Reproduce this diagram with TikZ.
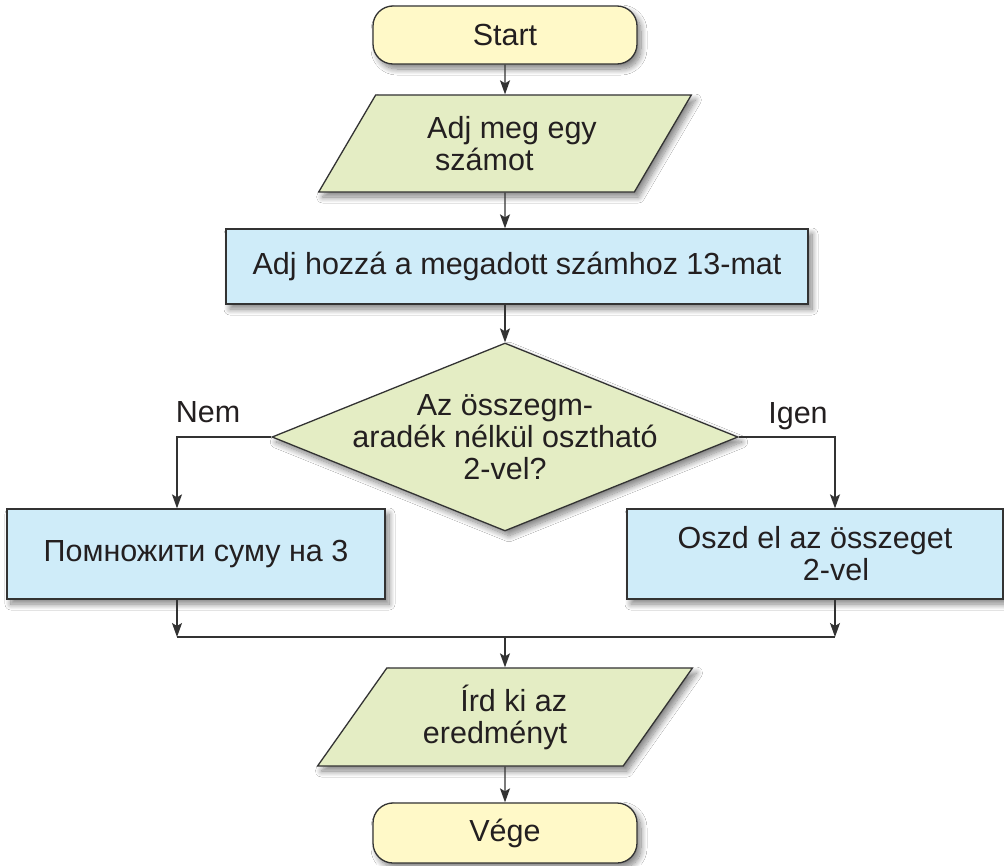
\documentclass[tikz,border=0pt]{standalone}
\usepackage{fontspec}
\setmainfont{Liberation Sans}
\usetikzlibrary{arrows.meta,shapes.geometric,shadows.blur}

\definecolor{inkgray}{HTML}{231F20}
\definecolor{linegray}{HTML}{333333}
\definecolor{termfill}{HTML}{FFF9C8}
\definecolor{iofill}{HTML}{E4EDC4}
\definecolor{procfill}{HTML}{CFECF9}

\tikzset{
  base/.style={draw=linegray, line width=1.3pt, text=inkgray, inner sep=0pt,
    font=\fontsize{30.5}{32}\selectfont,
    blur shadow={shadow xshift=4pt, shadow yshift=-5pt, shadow blur radius=6pt,
      shadow blur steps=12, shadow opacity=50}},
  terminal/.style={base, rectangle, rounded corners=20pt, fill=termfill,
    minimum width=264pt, minimum height=58pt},
  iobox/.style={base, trapezium, trapezium left angle=53.4,
    trapezium right angle=126.6, trapezium stretches=true, fill=iofill,
    minimum width=374pt, minimum height=97pt},
  procbox/.style={base, rectangle, fill=procfill},
  decision/.style={base, diamond, fill=iofill,
    minimum width=466pt, minimum height=188pt},
  branchlabel/.style={text=inkgray, font=\fontsize{30.5}{32}\selectfont},
  link/.style={draw=linegray, line width=1.3pt},
  arr/.style={link, -{Stealth[length=14pt, width=10pt, inset=3pt]}}
}

\begin{document}
\begin{tikzpicture}[x=1pt, y=-1pt]
  \fill[white] (0,0) rectangle (1004,865);
  \useasboundingbox (0,0) rectangle (1004,865);

  % nodes of the flow chart
  \node[terminal] (start) at (505,35) {Start};
  \node[iobox, align=left] (input) at (505,143.5)
    {\hspace*{14pt}Adj meg egy\\\hspace*{22pt}számot};
  \node[procbox, minimum width=582pt, minimum height=75pt] (add) at (517,266.5)
    {Adj hozzá a megadott számhoz 13-mat};
  \node[decision, label={[branchlabel, align=center]center:{Az összegm-\\aradék nélkül osztható\\2-vel?}}]
    (test) at (505,437) {};
  \node[procbox, minimum width=378pt, minimum height=90pt] (mul) at (196,554)
    {\raisebox{-4pt}{Помножити суму на 3}};
  \node[procbox, minimum width=376pt, minimum height=90pt, align=center] (div) at (815,554)
    {Oszd el az összeget\\\hspace*{42pt}2-vel};
  \node[iobox, minimum width=376pt, minimum height=98pt, align=right] (output) at (505,717)
    {Írd ki az\hspace*{20pt}\\eredményt\hspace*{20pt}};
  \node[terminal, minimum height=60pt] (stop) at (505,833) {Vége};

  % branch labels
  \node[branchlabel] (no) at (208,412) {Nem};
  \node[branchlabel] (yes) at (798,416) {Igen};

  % columns of the two branches and the merge point
  \coordinate (lcol) at (177,0);
  \coordinate (rcol) at (835,0);
  \coordinate (join) at (505,637);

  % connectors
  \draw[arr] (start) -- (input);
  \draw[arr] (input) -- (input |- add.north);
  \draw[arr] (add.south -| test) -- (test);
  \draw[arr] (test.west) -| (lcol |- mul.north);
  \draw[arr] (test.east) -| (rcol |- div.north);
  \draw[arr] (lcol |- mul.south) -- (lcol |- join);
  \draw[arr] (rcol |- div.south) -- (rcol |- join);
  \draw[link] (lcol |- join) -- (rcol |- join);
  \draw[arr] (join) -- (output);
  \draw[arr] (output) -- (stop);
\end{tikzpicture}
\end{document}
